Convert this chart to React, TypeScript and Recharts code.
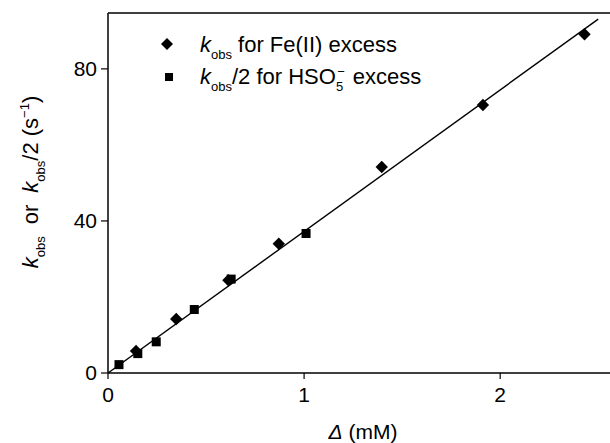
import {
  Legend, ReferenceLine, Scatter, ScatterChart, XAxis, YAxis,
} from 'recharts';

const FONT = '"Liberation Sans", Arial, Helvetica, sans-serif';

// kobs for Fe(II) excess (diamonds)
const feExcessDelta = [0.143, 0.348, 0.614, 0.871, 1.396, 1.912, 2.43];
const feExcessK = [5.8, 14.2, 24.4, 34.0, 54.2, 70.5, 89.1];

// kobs/2 for HSO5- excess (squares)
const hso5ExcessDelta = [0.056, 0.152, 0.246, 0.44, 0.628, 1.01];
const hso5ExcessK = [2.2, 5.1, 8.2, 16.7, 24.7, 36.7];

// linear fit through the origin
const fitDelta = [0, 2.5];
const fitK = [0, 93.1];

const xTicks = [0, 1, 2];
const yTicks = [0, 40, 80];
const X_MAX = 2.56;
const Y_MAX = 94.7;

const feRows = feExcessDelta.map((x, i) => ({ x, y: feExcessK[i] }));
const hsoRows = hso5ExcessDelta.map((x, i) => ({ x, y: hso5ExcessK[i] }));
const fitRows = fitDelta.map((x, i) => ({ x, y: fitK[i] }));

type Pt = { cx?: number; cy?: number };

function DiamondShape({ cx = 0, cy = 0 }: Pt) {
  const r = 6.2;
  return <polygon points={`${cx},${cy - r} ${cx + r},${cy} ${cx},${cy + r} ${cx - r},${cy}`} fill="#000" />;
}

function SquareShape({ cx = 0, cy = 0 }: Pt) {
  const s = 9;
  return <rect x={cx - s / 2} y={cy - s / 2} width={s} height={s} fill="#000" />;
}

function NoShape() {
  return <g />;
}

// legend drawn as a small svg overlay in the top-left of the plot
function LegendBox() {
  return (
    <svg width={610} height={100} style={{ display: 'block' }}>
      <polygon points="167,38 173,44 167,50 161,44" fill="#000" />
      <rect x={165} y={73} width={8} height={8} fill="#000" />
      <text x={200} y={52} fontFamily={FONT} fontSize={22} fill="#000">
        <tspan fontStyle="italic">k</tspan>
        <tspan fontSize={13} dy={7}>obs</tspan>
        <tspan dy={-7}> for Fe(II) excess</tspan>
      </text>
      <text x={200} y={84} fontFamily={FONT} fontSize={22} fill="#000">
        <tspan fontStyle="italic">k</tspan>
        <tspan fontSize={13} dy={7}>obs</tspan>
        <tspan dy={-7}>/2 for HSO</tspan>
        <tspan fontSize={13} dy={7}>5</tspan>
        <tspan fontSize={13} dx={-6} dy={-15}>−</tspan>
        <tspan dx={2} dy={8}> excess</tspan>
      </text>
    </svg>
  );
}

function YLabel() {
  const x = 38;
  const y = 182;
  return (
    <text
      x={x}
      y={y}
      transform={`rotate(-90, ${x}, ${y})`}
      textAnchor="middle"
      fontFamily={FONT}
      fontSize={22}
      fill="#000"
    >
      <tspan fontStyle="italic">k</tspan>
      <tspan fontSize={13} dy={7}>obs</tspan>
      <tspan dx={12} dy={-7}>or</tspan>
      <tspan dx={12} fontStyle="italic">k</tspan>
      <tspan fontSize={13} dy={7}>obs</tspan>
      <tspan dy={-7}>/2 (s</tspan>
      <tspan fontSize={13} dy={-9}>−1</tspan>
      <tspan dy={9}>)</tspan>
    </text>
  );
}

function XLabel({ viewBox }: { viewBox?: { x: number; width: number } }) {
  const cx = viewBox ? viewBox.x + viewBox.width / 2 + 4 : 363;
  return (
    <text x={cx} y={439} textAnchor="middle" fontFamily={FONT} fontSize={21} fill="#000">
      <tspan fontStyle="italic">Δ</tspan>
      <tspan> (mM)</tspan>
    </text>
  );
}

export default function App() {
  const tick = { fill: '#000', fontSize: 21, fontFamily: FONT };
  return (
    <div style={{ position: 'absolute', left: 0, top: 0, width: 610, height: 443, background: '#fff' }}>
      <ScatterChart
        width={610}
        height={443}
        margin={{ top: 13, right: 0, left: 48, bottom: 10 }}
      >
        <XAxis
          type="number"
          dataKey="x"
          domain={[0, X_MAX]}
          ticks={xTicks}
          allowDataOverflow
          height={60}
          tick={tick}
          tickSize={6}
          tickMargin={8}
          axisLine={{ stroke: '#000', strokeWidth: 1.5 }}
          tickLine={{ stroke: '#000', strokeWidth: 1.2 }}
          label={<XLabel />}
        />
        <YAxis
          type="number"
          dataKey="y"
          domain={[0, Y_MAX]}
          ticks={yTicks}
          allowDataOverflow
          width={60}
          tick={tick}
          tickSize={7}
          tickMargin={4}
          axisLine={{ stroke: '#000', strokeWidth: 1.5 }}
          tickLine={{ stroke: '#000', strokeWidth: 1.2 }}
          label={<YLabel />}
        />
        <ReferenceLine y={Y_MAX} stroke="#000" strokeWidth={1.5} />
        <Legend
          layout="horizontal"
          verticalAlign="middle"
          align="center"
          content={<LegendBox />}
          wrapperStyle={{ left: 0, top: 0, width: 610, height: 100 }}
        />
        <Scatter
          data={fitRows}
          line={{ stroke: '#000', strokeWidth: 1.4 }}
          lineType="joint"
          shape={<NoShape />}
          legendType="none"
          isAnimationActive={false}
        />
        <Scatter data={hsoRows} shape={<SquareShape />} isAnimationActive={false} />
        <Scatter data={feRows} shape={<DiamondShape />} isAnimationActive={false} />
      </ScatterChart>
    </div>
  );
}
